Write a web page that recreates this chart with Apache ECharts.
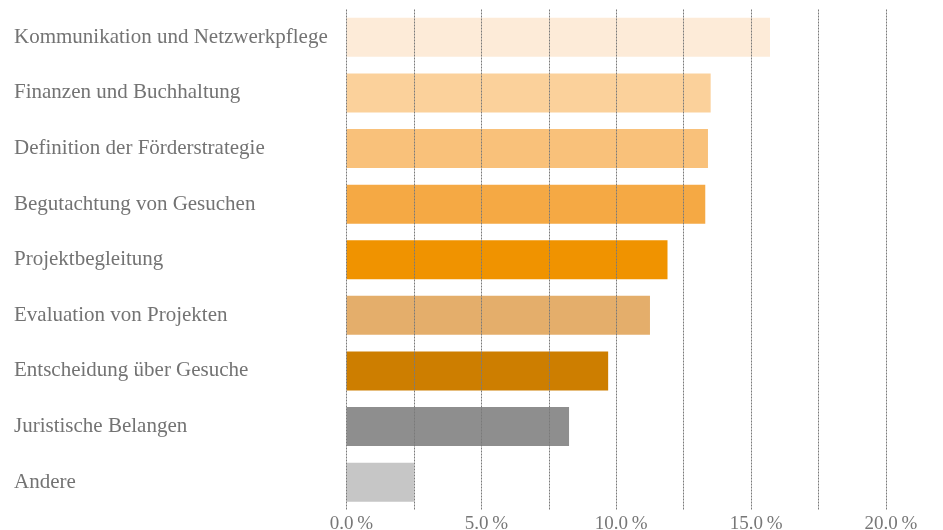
<!DOCTYPE html>
<html>
<head>
<meta charset="utf-8">
<script src="https://cdn.jsdelivr.net/npm/echarts@6/dist/echarts.min.js"></script>
<style>
  html, body { margin: 0; padding: 0; background: #fff; }
  #chart { width: 943px; height: 530px; }
</style>
</head>
<body>
<div id="chart"></div>
<script>
// Kategorien von oben nach unten
var categories = [
  'Kommunikation und Netzwerkpflege',
  'Finanzen und Buchhaltung',
  'Definition der Förderstrategie',
  'Begutachtung von Gesuchen',
  'Projektbegleitung',
  'Evaluation von Projekten',
  'Entscheidung über Gesuche',
  'Juristische Belangen',
  'Andere'
];
var values = [15.7, 13.5, 13.4, 13.3, 11.9, 11.25, 9.7, 8.25, 2.5];
var colors = ['#fdebd8', '#fbd19b', '#f9c17a', '#f5a944', '#f09300', '#e4ae6b', '#cd7e00', '#8e8e8e', '#c6c6c6'];
var tickLabels = [0, 5, 10, 15, 20];

var chart = echarts.init(document.getElementById('chart'));

var option = {
  animation: false,
  textStyle: { fontFamily: 'Liberation Serif' },
  grid: {
    left: 346.5, right: 57, top: 9.5, bottom: 20,
    containLabel: false,
    outerBoundsMode: 'none'
  },
  xAxis: {
    type: 'value',
    min: 0,
    max: 20,
    interval: 2.5,
    z: 5,
    axisLine: { show: false },
    axisTick: { show: false },
    splitLine: { lineStyle: { color: '#7a7a7a', type: [2, 1], width: 1 } },
    axisLabel: {
      color: '#777',
      fontSize: 19,
      margin: 5,
      padding: [0, 0, 0, 10],
      formatter: function (v) {
        return tickLabels.indexOf(v) >= 0 ? v.toFixed(1) + '\u2009%' : '';
      }
    }
  },
  yAxis: {
    type: 'category',
    inverse: true,
    data: categories,
    axisLine: { show: false },
    axisTick: { show: false },
    splitLine: { show: false },
    axisLabel: {
      color: '#737373',
      fontSize: 21,
      align: 'left',
      margin: 332.5
    }
  },
  series: [{
    type: 'bar',
    barWidth: 39,
    data: values.map(function (v, i) {
      return { value: v, itemStyle: { color: colors[i] } };
    })
  }]
};

chart.setOption(option);
</script>
</body>
</html>
